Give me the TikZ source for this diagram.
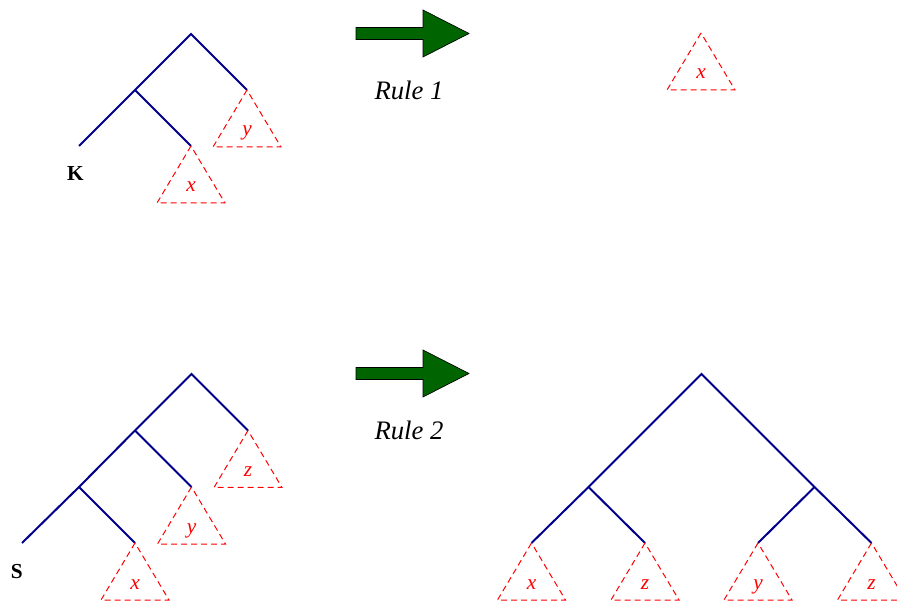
\documentclass[tikz,border=0pt]{standalone}
\usepackage{fontspec}
\setmainfont{Liberation Serif}
\usetikzlibrary{calc}
\definecolor{treeblue}{RGB}{0,0,140}
\definecolor{ruledarkgreen}{RGB}{0,100,0}
\tikzset{%
  % Specifications for style of lines and labels:
       branch/.style = {draw=treeblue, line width=1.5pt},
      subtree/.style = {draw=red, line width=0.75pt, dash pattern=on 4.5pt off 3pt},
     sublabel/.style = {text=red, anchor=base, inner sep=0pt,
                        font=\fontsize{16}{19}\selectfont\itshape},
    rootlabel/.style = {anchor=base, inner sep=0pt,
                        font=\fontsize{16}{19}\selectfont\bfseries},
    rulelabel/.style = {anchor=base, inner sep=0pt,
                        font=\fontsize{20}{24}\selectfont\itshape},
    rulearrow/.style = {draw=black, line width=0.5pt, fill=ruledarkgreen},
}
% dashed subtree below a leaf, with its label
\newcommand{\subtri}[3]{%
  \draw[subtree] (#1) -- ++(-34,57) -- ++(68,0) -- cycle;
  \node (#3) [sublabel] at ($(#1)+(0,46)$) {#2};}

\begin{document}
\begin{tikzpicture}[x=0.75pt, y=-0.75pt]
  \useasboundingbox (0,0) rectangle (897,602);
  % Specification of tree points (position)
  \coordinate (k0)    at (191,34);
  \coordinate (k1)    at (135,90);
  \coordinate (kleaf) at (79,146);
  \coordinate (kx)    at (191,146);
  \coordinate (ky)    at (247,90);

  \coordinate (rx)    at (701,33);

  \coordinate (s0)    at (191.5,374);
  \coordinate (s1)    at (135,430.5);
  \coordinate (s2)    at (79,487);
  \coordinate (sleaf) at (22,543);
  \coordinate (sx)    at (135,543);
  \coordinate (sy)    at (191.5,487);
  \coordinate (sz)    at (248,430.5);

  \coordinate (t0)    at (701.5,374);
  \coordinate (t1)    at (588.5,487);
  \coordinate (t2)    at (814.5,487);
  \coordinate (tx)    at (531.5,543);
  \coordinate (tz)    at (645,543);
  \coordinate (ty)    at (758,543);
  \coordinate (tzz)   at (871.5,543);

  % Specification of branches between points specified above
  \draw[branch] (kleaf) -- (k1) -- (k0) -- (ky);
  \draw[branch] (k1) -- (kx);

  \draw[branch] (sleaf) -- (s2) -- (s1) -- (s0) -- (sz);
  \draw[branch] (s2) -- (sx);
  \draw[branch] (s1) -- (sy);

  \draw[branch] (tx) -- (t1) -- (t0) -- (t2) -- (tzz);
  \draw[branch] (t1) -- (tz);
  \draw[branch] (t2) -- (ty);

  % subtrees
  \subtri{kx}{x}{kxlabel}
  \subtri{ky}{y}{kylabel}
  \subtri{rx}{x}{rxlabel}
  \subtri{sx}{x}{sxlabel}
  \subtri{sy}{y}{sylabel}
  \subtri{sz}{z}{szlabel}
  \subtri{tx}{x}{txlabel}
  \subtri{tz}{z}{tzlabel}
  \subtri{ty}{y}{tylabel}
  \subtri{tzz}{z}{tzzlabel}

  \node (klabel) [rootlabel] at (75.5,181) {K};
  \node (slabel) [rootlabel] at (16.7,578) {S};

  % rule arrows with their names
  \foreach \dy/\n in {0/1, 340/2} {
    \begin{scope}[shift={(0,\dy)}]
      \draw[rulearrow] (356,27.5) -- (423,27.5) -- (423,10) -- (469,33.5)
        -- (423,57) -- (423,39.5) -- (356,39.5) -- cycle;
      \node (rule\n) [rulelabel] at (409,100) {Rule \n};
    \end{scope}
  }
\end{tikzpicture}
\end{document}
